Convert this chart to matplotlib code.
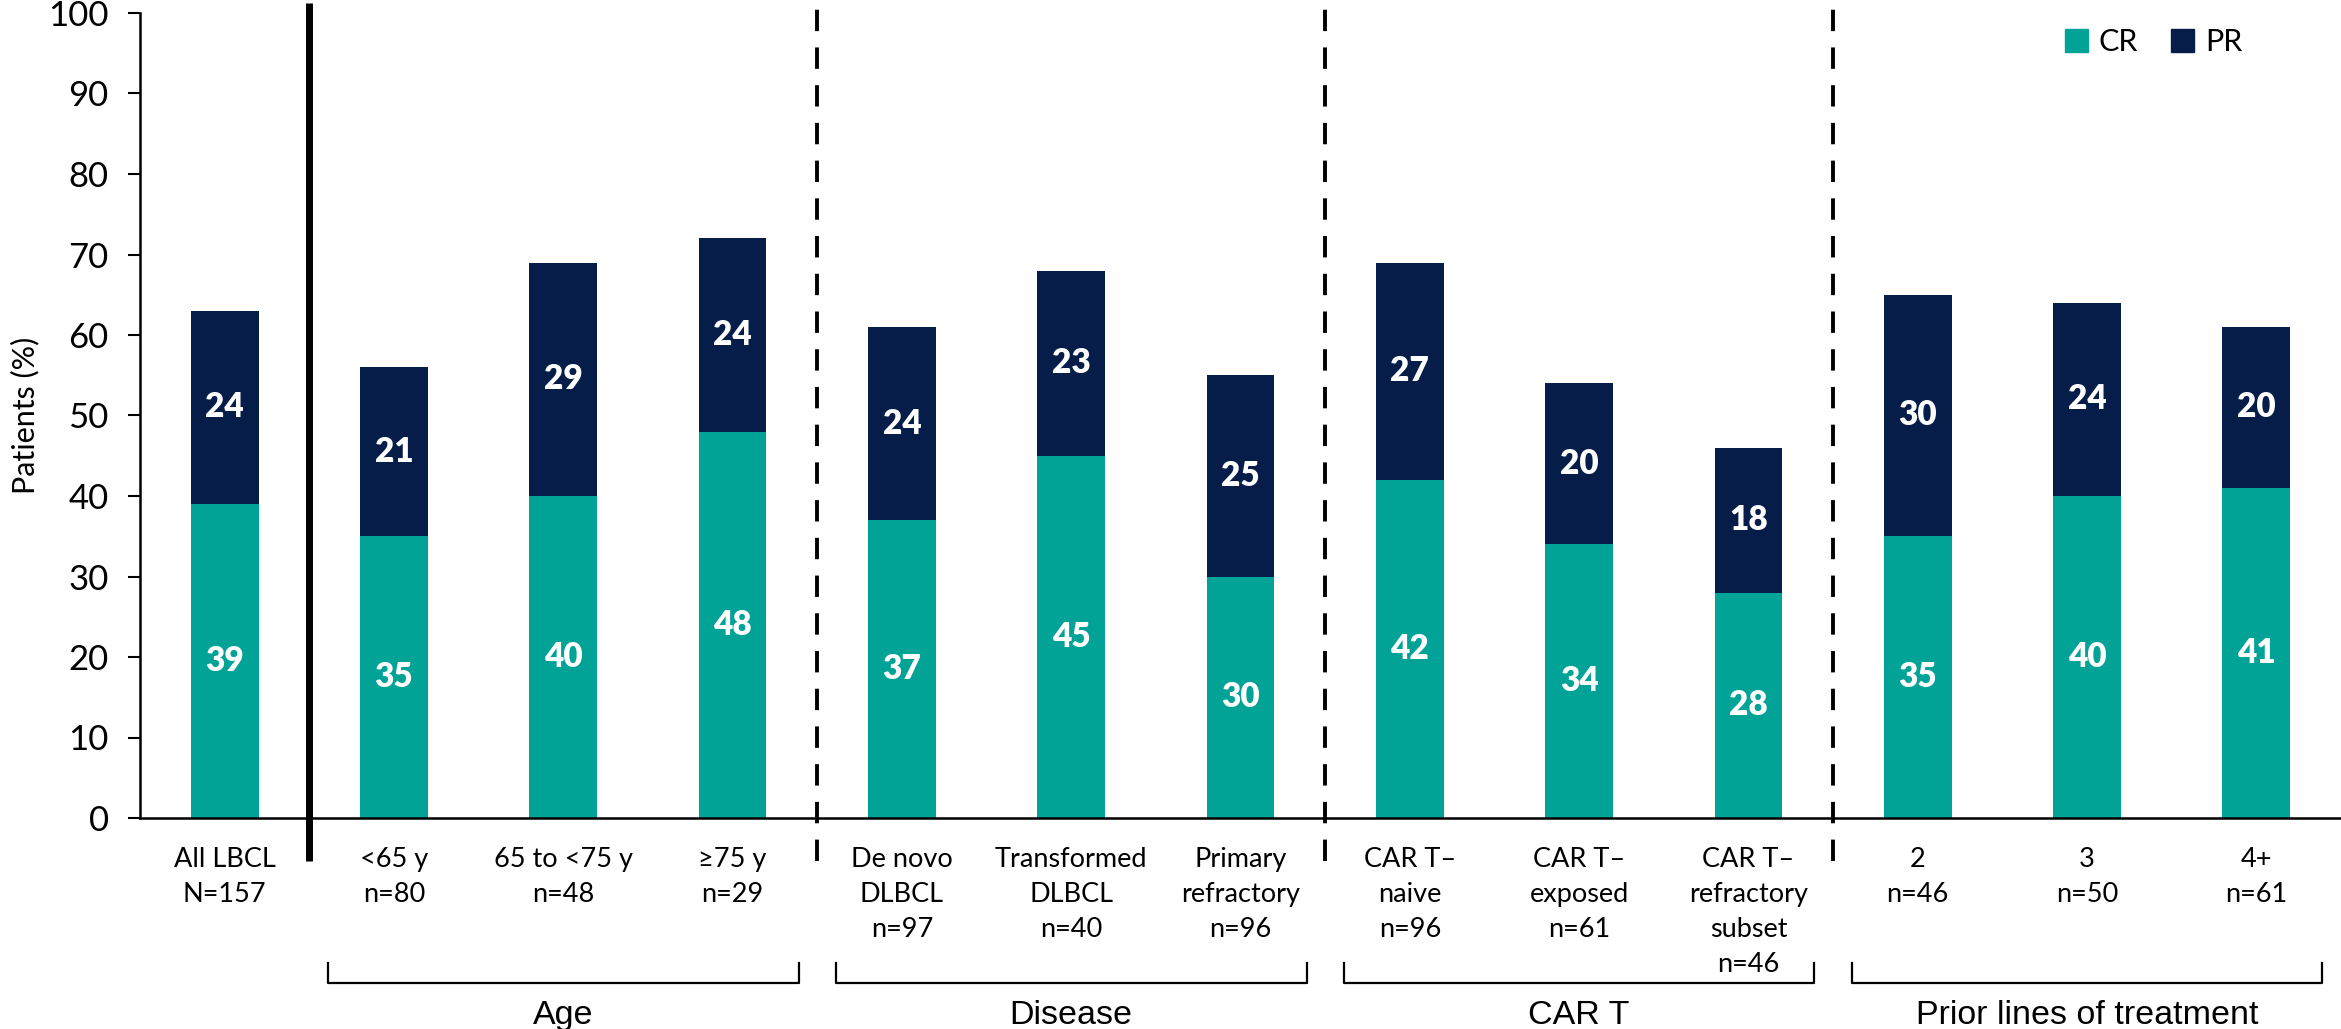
import matplotlib
matplotlib.use("Agg")
import matplotlib.pyplot as plt
from matplotlib.patches import Patch
import numpy as np

# Response rates (%) by subgroup
categories = [
    "All LBCL\nN=157",
    "<65 y\nn=80",
    "65 to <75 y\nn=48",
    "\u226575 y\nn=29",
    "De novo\nDLBCL\nn=97",
    "Transformed\nDLBCL\nn=40",
    "Primary\nrefractory\nn=96",
    "CAR T\u2013\nnaive\nn=96",
    "CAR T\u2013\nexposed\nn=61",
    "CAR T\u2013\nrefractory\nsubset\nn=46",
    "2\nn=46",
    "3\nn=50",
    "4+\nn=61",
]
cr = [39, 35, 40, 48, 37, 45, 30, 42, 34, 28, 35, 40, 41]
pr = [24, 21, 29, 24, 24, 23, 25, 27, 20, 18, 30, 24, 20]

groups = ["Age", "Disease", "CAR T", "Prior lines of treatment"]
group_bounds = [(0.5, 3.5), (3.5, 6.5), (6.5, 9.5), (9.5, 12.5)]

CR_COLOR = "#00A396"
PR_COLOR = "#061D49"
body_font = ["Lato", "DejaVu Sans"]

plt.rcParams["font.family"] = body_font

fig = plt.figure(figsize=(23.41, 10.29), dpi=100)
ax = fig.add_axes([140 / 2341, 1 - 818 / 1029, 2201 / 2341, 805 / 1029])

x = np.arange(len(categories))
width = 0.4
ax.bar(x, cr, width, color=CR_COLOR, label="CR")
ax.bar(x, pr, width, bottom=cr, color=PR_COLOR, label="PR")

# value labels in the middle of each segment
for xi, c, p in zip(x, cr, pr):
    ax.text(xi, c / 2, str(c), ha="center", va="center", color="white",
            fontsize=24, fontweight="heavy")
    ax.text(xi, c + p / 2, str(p), ha="center", va="center", color="white",
            fontsize=24, fontweight="heavy")

ax.set_xlim(-0.5, 12.5)
ax.set_ylim(0, 100)
ax.set_yticks(np.arange(0, 101, 10))
ax.tick_params(axis="y", labelsize=25, length=8.5, width=1.5, pad=14)
ax.set_xticks([])
ax.set_ylabel("Patients (%)", fontsize=22, labelpad=6)

# category names under each bar
for xi, name in zip(x, categories):
    ax.text(xi, -3.6, name, ha="center", va="top", fontsize=19.5,
            linespacing=1.5, clip_on=False)

for side in ["top", "right"]:
    ax.spines[side].set_visible(False)
for side in ["left", "bottom"]:
    ax.spines[side].set_linewidth(1.8)

# separators between subgroup blocks
ax.plot([0.5, 0.5], [-5.3, 101.2], color="black", lw=5, clip_on=False,
        solid_capstyle="butt")
for s in [3.5, 6.5, 9.5]:
    ax.plot([s, s], [-5.3, 101.2], color="black", lw=2.8, clip_on=False,
            linestyle=(0, (5.5, 4.2)))

# brackets and group names under the axis
for name, (a, b) in zip(groups, group_bounds):
    xa, xb = a + 0.11, b - 0.11
    ax.plot([xa, xa, xb, xb], [-18.0, -20.5, -20.5, -18.0], color="black",
            lw=1.6, clip_on=False)
    ax.text((a + b) / 2, -25.6, name, ha="center", va="baseline",
            fontsize=24.5, family=["Liberation Sans", "DejaVu Sans"])

handles = [Patch(color=CR_COLOR, label="CR"), Patch(color=PR_COLOR, label="PR")]
ax.legend(handles=handles, loc="upper right", bbox_to_anchor=(0.962, 1.0),
          ncol=2, frameon=False, fontsize=22, borderpad=0,
          handlelength=0.75, handleheight=0.75, handletextpad=0.35,
          columnspacing=1.1)

fig.savefig("out.png", dpi=100)
